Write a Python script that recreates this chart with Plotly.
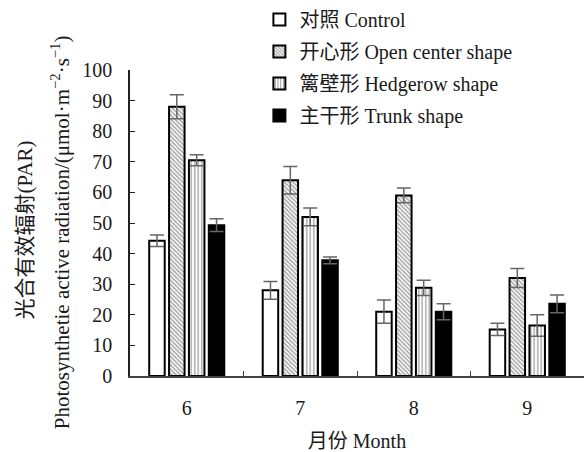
import plotly.graph_objects as go

# Months and photosynthetically active radiation per canopy shape
months = ["6", "7", "8", "9"]
series_names = [
    "对照 Control",
    "开心形 Open center shape",
    "篱壁形 Hedgerow shape",
    "主干形 Trunk shape",
]
control = [44.2, 28.0, 21.0, 15.2]
open_center = [88.0, 64.0, 59.0, 32.0]
hedgerow = [70.5, 52.0, 28.8, 16.5]
trunk = [49.3, 37.8, 21.0, 23.6]

control_err = [1.9, 2.9, 3.8, 2.0]
open_center_err = [3.9, 4.5, 2.4, 3.1]
hedgerow_err = [1.8, 2.9, 2.5, 3.5]
trunk_err = [2.1, 1.1, 2.6, 2.9]

y_ticks = list(range(0, 101, 10))

FONT = "Liberation Serif, Noto Sans CJK SC, serif"
INK = "#1a1a1a"

styles = [
    dict(color="white"),
    dict(color="white", pattern=dict(shape="\\", size=3, solidity=0.5,
                                     fgcolor="#4a4a4a", bgcolor="white")),
    dict(color="white", pattern=dict(shape="|", size=3.5, solidity=0.3,
                                     fgcolor="#111111", bgcolor="white")),
    dict(color="black"),
]

fig = go.Figure()
for name, vals, errs, st in zip(
    series_names,
    [control, open_center, hedgerow, trunk],
    [control_err, open_center_err, hedgerow_err, trunk_err],
    styles,
):
    fig.add_trace(go.Bar(
        x=months, y=vals, name=name, legendgroup=name,
        marker=dict(line=dict(color="black", width=2), **st),
        error_y=dict(type="data", array=errs, visible=True,
                     color="#666666", thickness=1.5, width=7),
    ))

fig.update_layout(
    width=584, height=452,
    margin=dict(l=130, r=0, t=69, b=76),
    paper_bgcolor="white", plot_bgcolor="white",
    font=dict(family=FONT, size=20, color=INK),
    barmode="group", bargap=0.3, bargroupgap=0.22,
    showlegend=True,
    legend=dict(x=0.285, y=1.228, xanchor="left", yanchor="top",
                traceorder="grouped", tracegroupgap=3,
                font=dict(family=FONT, size=20, color=INK),
                bgcolor="rgba(0,0,0,0)"),
    xaxis=dict(
        range=[-0.5, 3.5], showline=True, linecolor="#444444", linewidth=1.5,
        ticks="inside", ticklen=5, tickcolor="#444444", tickson="boundaries",
        showgrid=False, zeroline=False, ticklabelstandoff=13,
        title=dict(text="月份 Month", standoff=16, font=dict(size=20)),
    ),
    yaxis=dict(
        range=[0, 100], tickvals=y_ticks, showline=True, linecolor="#222222",
        linewidth=1.5, ticks="inside", ticklen=5, tickcolor="#222222",
        showgrid=False, zeroline=False, ticklabelstandoff=12,
    ),
)

# Two-line vertical axis title: Chinese name and English name with units
fig.add_annotation(
    text="光合有效辐射(PAR)", xref="paper", yref="paper",
    x=(25 - 130) / 454, y=0.4756, xanchor="center", yanchor="middle",
    textangle=-90, showarrow=False, font=dict(size=21),
)
fig.add_annotation(
    text="Photosynthetie active radiation/(μmol·m<sup>−2</sup>·s<sup>−1</sup>)",
    xref="paper", yref="paper",
    x=(60 - 130) / 454, y=0.47, xanchor="center", yanchor="middle",
    textangle=-90, showarrow=False, font=dict(size=21),
)

fig.write_html("out.html")
